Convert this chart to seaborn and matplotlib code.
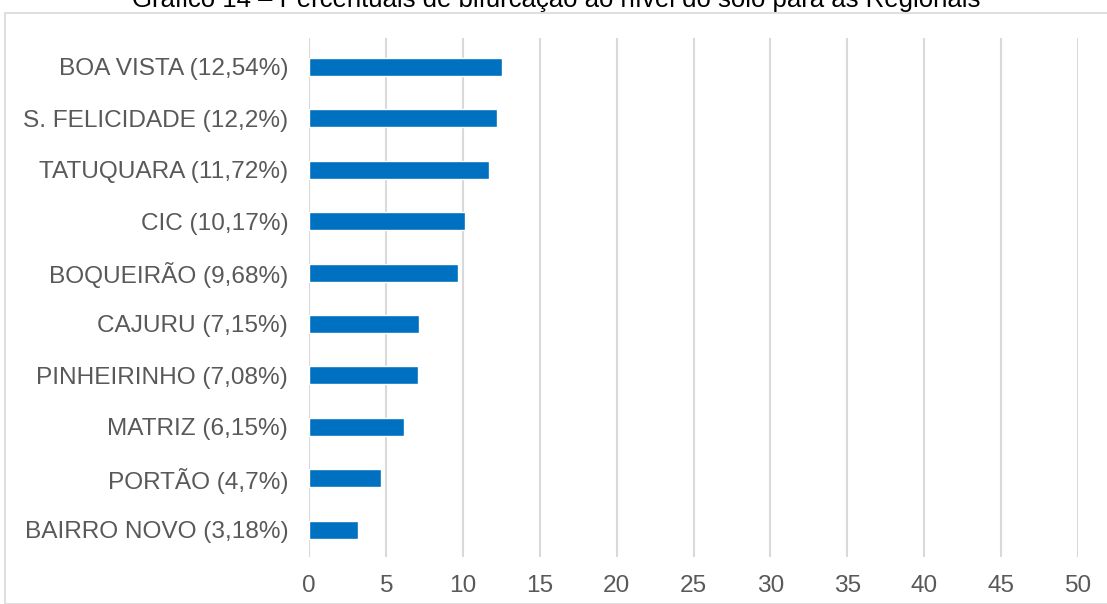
import matplotlib
matplotlib.use("Agg")
import matplotlib.pyplot as plt
from matplotlib.patches import Rectangle
import seaborn as sns
import pandas as pd

regionais = ["BOA VISTA (12,54%)", "S. FELICIDADE (12,2%)", "TATUQUARA (11,72%)",
             "CIC (10,17%)", "BOQUEIRÃO (9,68%)", "CAJURU (7,15%)",
             "PINHEIRINHO (7,08%)", "MATRIZ (6,15%)", "PORTÃO (4,7%)",
             "BAIRRO NOVO (3,18%)"]
percentuais = [12.54, 12.2, 11.72, 10.17, 9.68, 7.15, 7.08, 6.15, 4.7, 3.18]
x_ticks = [0, 5, 10, 15, 20, 25, 30, 35, 40, 45, 50]
titulo = "Gráfico 14 – Percentuais de bifurcação ao nível do solo para as Regionais"

df = pd.DataFrame({"regional": regionais, "percentual": percentuais})

sns.set_theme(style="white")
plt.rcParams["font.family"] = ["Liberation Sans", "DejaVu Sans"]

W, H = 1107, 604
fig = plt.figure(figsize=(W / 100, H / 100), dpi=100)
ax = fig.add_axes([309 / W, 1 - 557 / H, (1078 - 309) / W, (557 - 38) / H])

text_color = "#595959"
grid_color = "#D9D9D9"

ax.set_axisbelow(True)
for t in x_ticks:
    ax.axvline(t, color=grid_color, lw=1.5, zorder=0)

sns.barplot(data=df, x="percentual", y="regional", orient="h", color="#0070C0",
            saturation=1, width=0.35, ax=ax, zorder=2)

ax.set_xlim(0, 50)
ax.set_ylim(9.53, -0.56)
ax.set_xticks(x_ticks)
ax.set_xticklabels([str(t) for t in x_ticks])
ax.set_xlabel("")
ax.set_ylabel("")
ax.tick_params(axis="x", length=0, pad=13, labelsize=17.6, labelcolor=text_color)
ax.tick_params(axis="y", length=0, pad=15, labelsize=17.6, labelcolor=text_color)
for s in ax.spines.values():
    s.set_visible(False)

# chart frame
fig.patches.append(Rectangle((4.5 / W, 0), (W + 10) / W, 1 - 12.5 / H,
                             transform=fig.transFigure, fill=False,
                             edgecolor=grid_color, lw=1.2, zorder=0))

fig.text(556 / W, 1 - 7 / H, titulo, ha="center", va="baseline",
         fontsize=18.5, color="#000000")

fig.savefig("out.png", dpi=100)
